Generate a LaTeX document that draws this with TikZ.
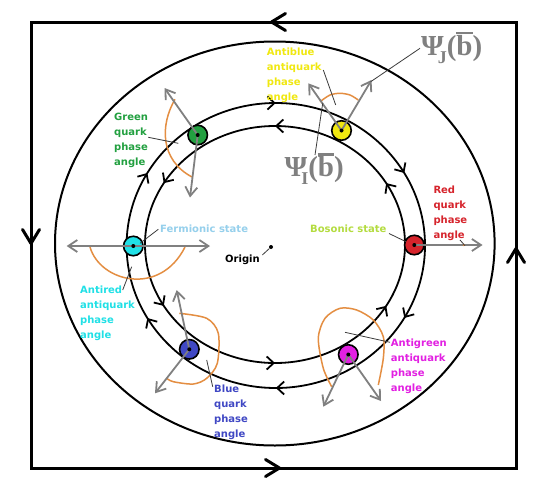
\documentclass[tikz,border=0pt]{standalone}
\usepackage{fontspec}
\setmainfont{DejaVu Sans}[BoldFont={DejaVu Sans Bold}]
\newfontfamily\psifont{Liberation Serif}[BoldFont={Liberation Serif Bold}]
\usetikzlibrary{arrows.meta,decorations.markings}
\definecolor{qgreen}{RGB}{34,160,64}
\definecolor{qyellow}{RGB}{240,232,16}
\definecolor{qred}{RGB}{214,36,44}
\definecolor{qcyan}{RGB}{32,224,230}
\definecolor{qblue}{RGB}{64,72,196}
\definecolor{qmagenta}{RGB}{226,32,226}
\definecolor{qorange}{RGB}{228,142,66}
\definecolor{qgray}{RGB}{128,128,128}
\definecolor{fermi}{RGB}{150,208,236}
\definecolor{boson}{RGB}{180,220,64}
\definecolor{leadc}{RGB}{60,60,60}
\newcommand{\barb}{\setbox0\hbox{b}\rlap{\raisebox{0.72em}{\rule{\wd0}{0.085em}}}\box0}
\newcommand{\psiof}[1]{\psifont\bfseries\fontsize{29}{29}\selectfont Ψ\kern-6pt\raisebox{-8pt}{\fontsize{18}{18}\selectfont #1}(\barb)}
\tikzset{
  frame/.style={line width=3pt, line join=miter},
  ring/.style={line width=1.8pt},
  bigring/.style={line width=2pt},
  qdot/.style={circle, draw=black, line width=1.6pt, minimum size=19.5pt, inner sep=0pt},
  core/.style={circle, fill=black, minimum size=4pt, inner sep=0pt},
  garrow/.style={draw=qgray, line width=1.8pt, -{Straight Barb[length=9pt,width=12pt]}},
  phase/.style={draw=qorange, line width=1.5pt},
  leader/.style={draw=leadc, line width=0.8pt},
  lbl/.style={font=\bfseries\fontsize{10}{15}\selectfont, align=left, anchor=north west, inner sep=0pt},
  slbl/.style={font=\bfseries\fontsize{10}{12}\selectfont, anchor=base west, inner sep=0pt},
  psil/.style={text=qgray, anchor=base west, inner sep=0pt},
}
\begin{document}
\begin{tikzpicture}[x=1pt,y=-1pt]
\useasboundingbox[fill=white] (0,0) rectangle (548,498);
% outer square with direction arrows
\draw[frame, postaction={decorate}, decoration={markings,
   mark=at position 223pt with {\arrow{Straight Barb[length=14pt,width=17pt,round]}},
   mark=at position 696pt with {\arrow{Straight Barb[length=14pt,width=17pt,round]}},
   mark=at position 1152pt with {\arrow{Straight Barb[length=14pt,width=17pt,round]}},
   mark=at position 1623pt with {\arrow{Straight Barb[length=14pt,width=17pt,round]}}}]
   (31,22) -- (31,468) -- (516,468) -- (516,22) -- cycle;
% big circle
\draw[bigring] (274.8,243.5) ellipse[x radius=219.8, y radius=202];
% outer track (clockwise)
\draw[ring, postaction={decorate}, decoration={markings,
   mark=between positions 0.0833 and 0.95 step 0.16667 with {\arrow{Straight Barb[length=7pt,width=13pt]}}}]
   (275.8,245.5) ellipse[x radius=149.2, y radius=142.5];
% inner track (counter-clockwise)
\draw[ring, postaction={decorate}, decoration={markings,
   mark=between positions 0.0833 and 0.95 step 0.16667 with {\arrowreversed{Straight Barb[length=7pt,width=13pt]}}}]
   (275,244.5) ellipse[x radius=130, y radius=118.5];
% phase angle curves
\draw[phase] (175,99.3) .. controls (160,125) and (160,160) .. (192,177);
\draw[phase] plot[smooth] coordinates {(320,101.7) (330,95) (340,93.3) (350,95) (358.3,100)};
\draw[phase] (90,247) .. controls (100,282) and (160,297) .. (185,247);
\draw[phase] plot[smooth] coordinates {(179.3,313.3) (206.7,318.3) (218.3,333.3) (217.3,363.3) (206.7,378.3) (193.3,384) (173.3,381.7) (166.7,378.3)};
\draw[phase] plot[smooth] coordinates {(331.7,386.7) (323.3,368.3) (318.3,338.3) (325,318.3) (340,308.3) (356.7,310) (373.3,320) (383.3,336.7) (383.3,358.3) (378.3,385)};
% quark dots
\node[qdot, fill=qgreen] (G) at (197.7,135) {};
\node[qdot, fill=qyellow] (Y) at (341.5,130.5) {};
\node[qdot, fill=qred] (R) at (414.3,245) {};
\node[qdot, fill=qcyan] (C) at (133.3,246) {};
\node[qdot, fill=qblue] (B) at (189.3,349.3) {};
\node[qdot, fill=qmagenta] (M) at (348.3,354.5) {};
% arrow tips
\coordinate (gU) at (164.5,88);
\coordinate (gD) at (190,197.5);
\coordinate (yL) at (308.3,83.3);
\coordinate (yR) at (371.5,80);
\coordinate (rR) at (482.5,245);
\coordinate (cL) at (66.7,246);
\coordinate (cR) at (210,246);
\coordinate (bU) at (176.7,290);
\coordinate (bD) at (155,393.3);
\coordinate (mL) at (323.3,406.7);
\coordinate (mR) at (381,401);
\draw[garrow] (G.center) -- (gU);
\draw[garrow] (G.center) -- (gD);
\draw[garrow] (Y.center) -- (yL);
\draw[garrow] (Y.center) -- (yR);
\draw[garrow] (R.center) -- (rR);
\draw[garrow] (C.center) -- (cL);
\draw[garrow] (C.center) -- (cR);
\draw[garrow] (B.center) -- (bU);
\draw[garrow] (B.center) -- (bD);
\draw[garrow] (M.center) -- (mL);
\draw[garrow] (M.center) -- (mR);
\fill[qorange] (463.8,245) circle[radius=1.3];
% dot cores
\node[core] (Gc) at (G.center) {};
\node[core] (Yc) at (Y.center) {};
\node[core] (Rc) at (R.center) {};
\node[core] (Cc) at (C.center) {};
\node[core] (Bc) at (B.center) {};
\node[core] (Mc) at (M.center) {};
\node[core] (O) at (271,247) {};
% labels
\node[lbl, text=qgreen] (lG) at (114,112.5) {Green\\quark\\phase\\angle};
\node[lbl, text=qyellow] (lY) at (266.7,47.5) {Antiblue\\antiquark\\phase\\angle};
\node[lbl, text=qred] (lR) at (433.3,185.2) {Red\\quark\\phase\\angle};
\node[lbl, text=qcyan] (lC) at (80,285.8) {Antired\\antiquark\\phase\\angle};
\node[lbl, text=qblue] (lB) at (214,384.8) {Blue\\quark\\phase\\angle};
\node[lbl, text=qmagenta] (lM) at (390.7,338.5) {Antigreen\\antiquark\\phase\\angle};
\node[slbl, text=boson] (lBos) at (310,232.7) {Bosonic state};
\node[slbl, text=fermi] (lFer) at (160,232.3) {Fermionic state};
\node[slbl, text=black] (lO) at (225,262.3) {Origin};
\node[psil] (psiJ) at (421,55) {\psiof{J}};
\node[psil] (psiI) at (284.5,176.7) {\psiof{I}};
% leader lines
\coordinate (aG1) at (148.3,137.3); \coordinate (aG2) at (178.3,143.3);
\coordinate (aY1) at (323.3,70);    \coordinate (aY2) at (335.7,105);
\coordinate (aJ1) at (420,48.3);    \coordinate (aJ2) at (370.7,81.7);
\coordinate (aI1) at (315,155);     \coordinate (aI2) at (322.7,103.3);
\coordinate (aS1) at (389,233.5);   \coordinate (aS2) at (406,241.7);
\coordinate (aR1) at (460,240);     \coordinate (aR2) at (465,245.7);
\coordinate (aF1) at (158.3,229.3); \coordinate (aF2) at (140,243.3);
\coordinate (aO1) at (262.3,255);
\coordinate (aC1) at (122.7,290);   \coordinate (aC2) at (131.7,266.7);
\coordinate (aB1) at (212.7,386.7); \coordinate (aB2) at (206.7,360);
\coordinate (aM1) at (390,342.3);   \coordinate (aM2) at (345,332.3);
\draw[leader] (aG1) -- (aG2);
\draw[leader] (aY1) -- (aY2);
\draw[leader] (aJ1) -- (aJ2);
\draw[leader] (aI1) -- (aI2);
\draw[leader] (aS1) -- (aS2);
\draw[leader] (aR1) -- (aR2);
\draw[leader] (aF1) -- (aF2);
\draw[leader] (aO1) -- (O);
\draw[leader] (aC1) -- (aC2);
\draw[leader] (aB1) -- (aB2);
\draw[leader] (aM1) -- (aM2);
\end{tikzpicture}
\end{document}
